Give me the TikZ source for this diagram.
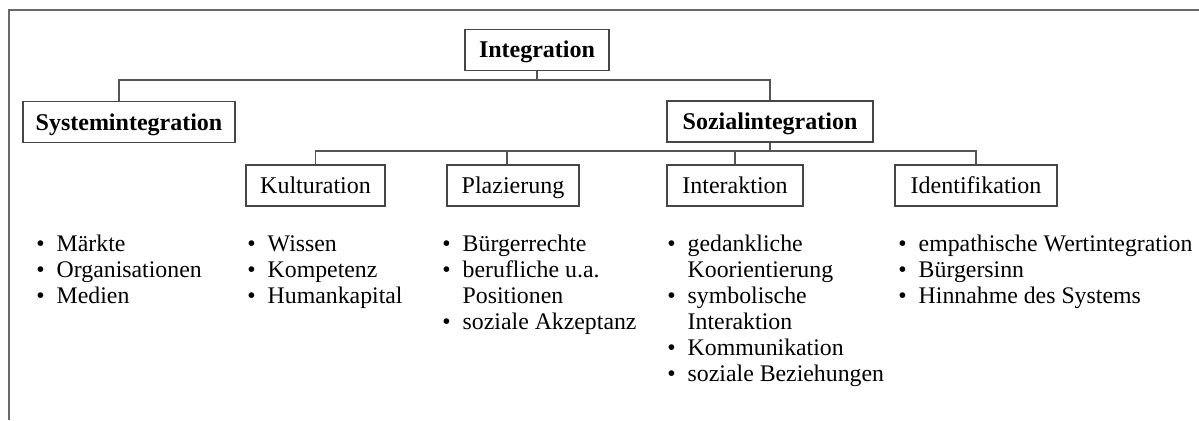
\documentclass[tikz,border=0pt]{standalone}
\usepackage{fontspec}
\setmainfont{Liberation Serif}
\usepackage{tikz,xcolor}

\definecolor{framegray}{RGB}{105,105,105}
\definecolor{boxgray}{RGB}{70,70,70}
\definecolor{linegray}{RGB}{85,85,85}

\tikzset{
  box/.style={draw=boxgray, line width=0.7pt, inner sep=0pt, minimum height=20.5pt,
    text height=8pt, text depth=0pt, font=\fontsize{12}{14}\selectfont},
  topbox/.style={box, font=\fontsize{12}{14}\selectfont\bfseries},
  conn/.style={draw=linegray, line width=0.6pt},
  itemlist/.style={anchor=north west, inner sep=0pt, align=left, font=\fontsize{11.9}{13}\selectfont}
}

\begin{document}
\begin{tikzpicture}[x=0.5pt, y=-0.5pt]
\useasboundingbox (0,0) rectangle (1199,420);

% ── Frame ──
\draw[framegray, line width=1.1pt] (9,420) -- (9,10) -- (1199,10);

% ── Level 1 ──
\node[topbox, minimum width=72pt] (integ) at (537, 49.7) {Integration};

% ── Level 2 ──
\node[topbox, minimum width=106pt] (sysint) at (129, 122) {Systemintegration};
\node[topbox, minimum width=103pt] (sozint) at (770, 121.5) {Sozialintegration};

% ── Level 3 ──
\node[box, minimum width=69.5pt] (kult)  at (315.5, 185.5) {Kulturation};
\node[box, minimum width=66pt]   (plaz)  at (513, 185.5)   {Plazierung};
\node[box, minimum width=68pt]   (inter) at (735, 185.5)   {Interaktion};
\node[box, minimum width=81pt]   (ident) at (976, 185.5)   {Identifikation};

% ── Connectors ──
\coordinate (busA) at (0, 80);
\coordinate (busB) at (0, 151);
\draw[conn] (integ.south) -- (integ.south |- busA);
\draw[conn] ([xshift=-5pt]sysint.north) |- (sozint.north |- busA) -- (sozint.north);
\draw[conn] (sozint.south) -- (sozint.south |- busB);
\draw[conn] (kult.north) |- (ident.north |- busB) -- (ident.north);
\draw[conn] ([xshift=-3pt]plaz.north) -- ([xshift=-3pt]plaz.north |- busB);
\draw[conn] (inter.north) -- (inter.north |- busB);

% ── Item lists ──
\node[itemlist] (listsys) at (36, 233) {%
  \begin{tabular}{@{}l@{\hspace{6pt}}l@{}}
  \textbullet & Märkte\\
  \textbullet & Organisationen\\
  \textbullet & Medien
  \end{tabular}};
\node[itemlist] (listkult) at (247, 233) {%
  \begin{tabular}{@{}l@{\hspace{6pt}}l@{}}
  \textbullet & Wissen\\
  \textbullet & Kompetenz\\
  \textbullet & Humankapital
  \end{tabular}};
\node[itemlist] (listplaz) at (442, 233) {%
  \begin{tabular}{@{}l@{\hspace{6pt}}l@{}}
  \textbullet & Bürgerrechte\\
  \textbullet & berufliche u.a.\\
              & Positionen\\
  \textbullet & soziale Akzeptanz
  \end{tabular}};
\node[itemlist] (listinter) at (667, 233) {%
  \begin{tabular}{@{}l@{\hspace{6pt}}l@{}}
  \textbullet & gedankliche\\
              & Koorientierung\\
  \textbullet & symbolische\\
              & Interaktion\\
  \textbullet & Kommunikation\\
  \textbullet & soziale Beziehungen
  \end{tabular}};
\node[itemlist] (listident) at (898, 233) {%
  \begin{tabular}{@{}l@{\hspace{6pt}}l@{}}
  \textbullet & empathische Wertintegration\\
  \textbullet & Bürgersinn\\
  \textbullet & Hinnahme des Systems
  \end{tabular}};

\end{tikzpicture}
\end{document}
